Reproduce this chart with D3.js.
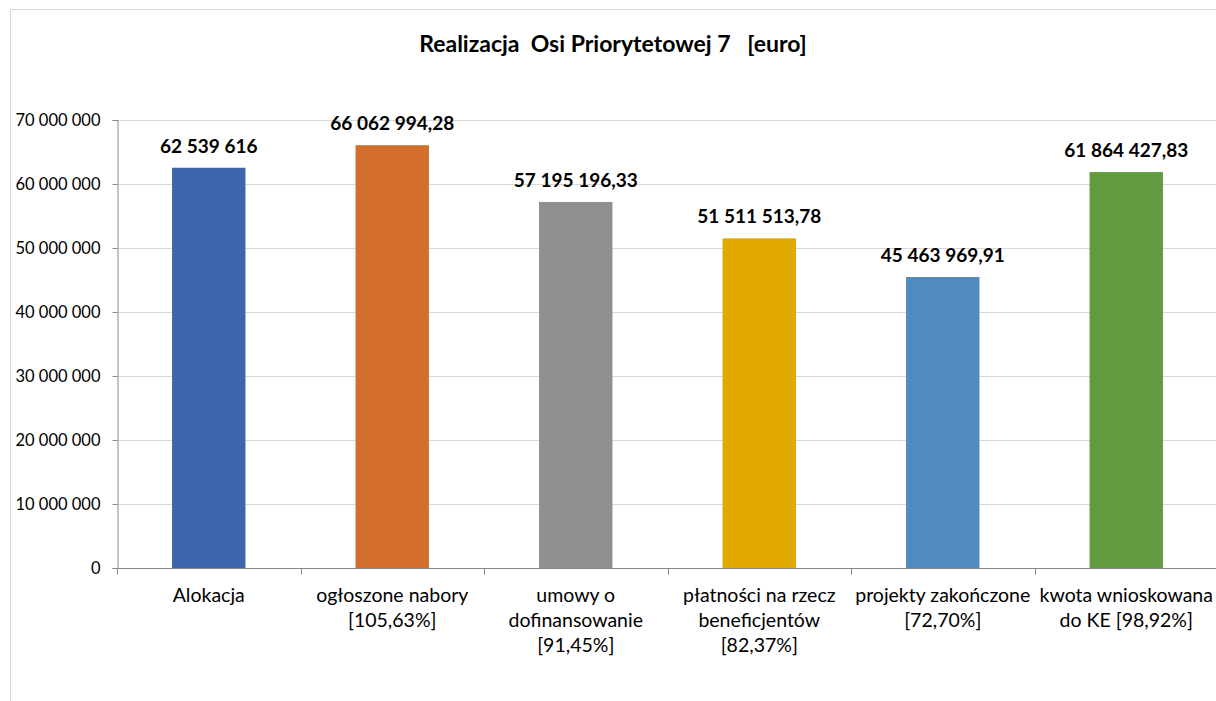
<!DOCTYPE html>
<html>
<head>
<meta charset="utf-8">
<script src="https://cdn.jsdelivr.net/npm/d3@7"></script>
<style>
  html, body { margin: 0; padding: 0; background: #fff; }
  svg { display: block; }
</style>
</head>
<body>
<svg id="chart" width="1216" height="701"></svg>
<script>
const categories = [
  ["Alokacja"],
  ["ogłoszone nabory", "[105,63%]"],
  ["umowy o", "dofinansowanie", "[91,45%]"],
  ["płatności na rzecz", "beneficjentów", "[82,37%]"],
  ["projekty zakończone", "[72,70%]"],
  ["kwota wnioskowana", "do KE [98,92%]"]
];
const values = [62539616, 66062994.28, 57195196.33, 51511513.78, 45463969.91, 61864427.83];
const valueLabels = ["62 539 616", "66 062 994,28", "57 195 196,33", "51 511 513,78", "45 463 969,91", "61 864 427,83"];
const colors = ["#3D64AD", "#D36D2B", "#8F8F8F", "#E1A800", "#4F8BBE", "#629B3F"];
const yTicks = [0, 10000000, 20000000, 30000000, 40000000, 50000000, 60000000, 70000000];
const title = "Realizacja\u00a0 Osi Priorytetowej 7\u00a0\u00a0\u00a0[euro]";

(function () {
const svg = d3.select("#chart");
const font = "Lato, 'Open Sans', sans-serif";

// chart border
svg.append("path")
  .attr("d", "M10.5,701 L10.5,9.5 L1216,9.5")
  .attr("fill", "none").attr("stroke", "#D9D9D9").attr("stroke-width", 1);

const pLeft = 117, pRight = 1218, pTop = 120, pBottom = 568;

const x = d3.scaleBand().domain(d3.range(categories.length)).range([pLeft, pRight]).padding(0);
const y = d3.scaleLinear().domain([0, 70000000]).range([pBottom, pTop]);

// title
svg.append("text")
  .attr("x", 613).attr("y", 52)
  .attr("text-anchor", "middle")
  .attr("font-family", font).attr("font-weight", "bold").attr("font-size", 23)
  .attr("fill", "#000")
  .text(title);

// gridlines
svg.append("g").selectAll("line").data(yTicks.filter(d => d > 0)).join("line")
  .attr("x1", pLeft).attr("x2", 1216)
  .attr("y1", d => Math.round(y(d)) + 0.5).attr("y2", d => Math.round(y(d)) + 0.5)
  .attr("stroke", "#D9D9D9").attr("stroke-width", 1);

// bars
const barW = x.bandwidth() * 0.4;
svg.append("g").selectAll("rect").data(values).join("rect")
  .attr("x", (d, i) => x(i) + (x.bandwidth() - barW) / 2)
  .attr("width", barW)
  .attr("y", d => y(d))
  .attr("height", d => y(0) - y(d))
  .attr("fill", (d, i) => colors[i]);

// y axis
const yAxis = d3.axisLeft(y).tickValues(yTicks).tickSize(5).tickPadding(12)
  .tickFormat(d => d === 0 ? "0" : d3.format(",")(d).replace(/,/g, " "));
const gy = svg.append("g").attr("transform", `translate(${pLeft + 0.5},0)`).call(yAxis);
gy.select(".domain").attr("stroke", "#888");
gy.selectAll(".tick line").attr("stroke", "#888");
gy.selectAll(".tick text")
  .attr("font-family", font).attr("font-size", 16.5).attr("fill", "#000");

// x axis
const gx = svg.append("g").attr("transform", `translate(0,${pBottom + 0.5})`);
gx.append("line").attr("x1", pLeft).attr("x2", 1216).attr("stroke", "#888");
const boundaries = d3.range(categories.length + 1).map(i => i < categories.length ? x(i) : pRight);
gx.selectAll("line.tk").data(boundaries).join("line").attr("class", "tk")
  .attr("x1", d => Math.round(d) + 0.5).attr("x2", d => Math.round(d) + 0.5)
  .attr("y1", 0).attr("y2", 6).attr("stroke", "#888");

// category labels
const catG = svg.append("g");
categories.forEach((lines, i) => {
  const t = catG.append("text")
    .attr("text-anchor", "middle")
    .attr("font-family", font).attr("font-size", 19.5).attr("fill", "#000");
  lines.forEach((ln, j) => {
    t.append("tspan").attr("x", x(i) + x.bandwidth() / 2).attr("y", 602 + j * 25).text(ln);
  });
});

// value labels
svg.append("g").selectAll("text").data(values).join("text")
  .attr("x", (d, i) => x(i) + x.bandwidth() / 2)
  .attr("y", d => y(d) - 15)
  .attr("text-anchor", "middle")
  .attr("font-family", font).attr("font-weight", "bold").attr("font-size", 19)
  .attr("fill", "#000")
  .text((d, i) => valueLabels[i]);
})();
</script>
</body>
</html>
